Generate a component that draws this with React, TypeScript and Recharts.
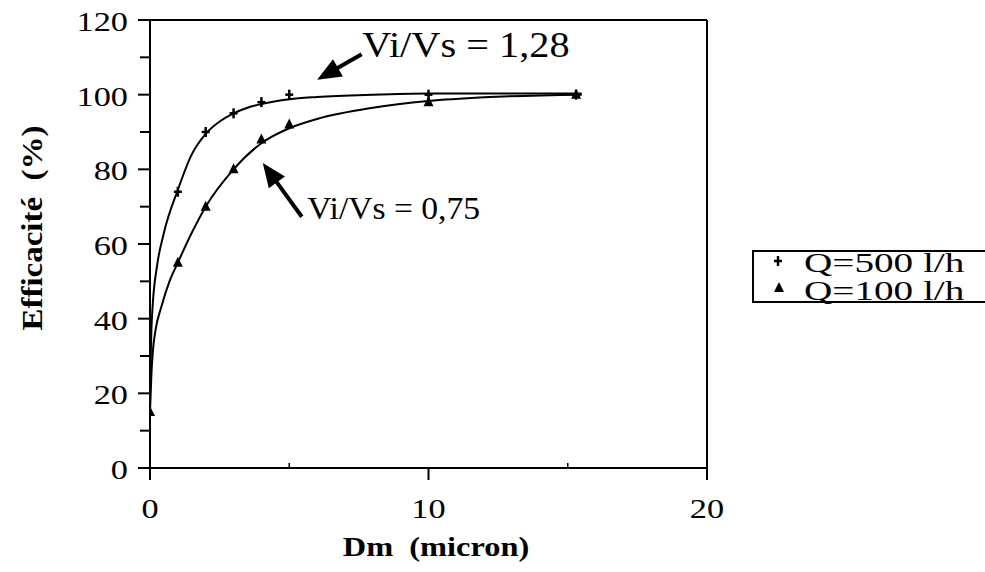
import React from "react";
import { ComposedChart, Customized, Legend, Line, ReferenceLine, Scatter, XAxis, YAxis } from "recharts";

const q500X = [1, 2, 3, 4, 5, 10, 15.3];
const q500Y = [74, 90, 95, 98, 100, 100, 100];
const q100X = [0, 1, 2, 3, 4, 5, 10, 15.3];
const q100Y = [15, 55, 70, 80, 88, 92, 98, 100];

// hand-drawn fit curves
const fitHighX = [0, 0.05, 0.1, 0.25, 0.5, 1, 1.5, 2, 2.5, 3, 3.5, 4, 5, 6, 8, 10, 12, 15.5];
const fitHighY = [22, 37, 44, 54, 63, 74.5, 84, 89.5, 92.8, 95, 96.5, 97.5, 98.8, 99.4, 100, 100.3, 100.3, 100.3];
const fitLowX = [0, 0.05, 0.1, 0.2, 0.4, 0.7, 1, 1.5, 2, 3, 4, 5, 6, 8, 10, 12, 15.5];
const fitLowY = [15, 25, 31, 37, 43, 50, 55, 63, 70, 80, 87, 91, 93.5, 96.5, 98.3, 99.3, 100];

const xTicks = [0, 5, 10, 15, 20];
const yTicks = [0, 10, 20, 30, 40, 50, 60, 70, 80, 90, 100, 110, 120];
const seriesNames = ["Q=500 l/h", "Q=100 l/h"];

const pts = (xs: number[], ys: number[]) => xs.map((x, i) => ({ x, y: ys[i] }));
const q500 = pts(q500X, q500Y);
const q100 = pts(q100X, q100Y);
const fitHigh = pts(fitHighX, fitHighY);
const fitLow = pts(fitLowX, fitLowY);

const W = 985;
const H = 572;
const LEFT = 150;
const RIGHT = 707;
const TOP = 20;
const BOTTOM = 468;
const FONT = "'Liberation Serif', 'Times New Roman', serif";

const px = (x: number, y: number): [number, number] => [
  LEFT + (x / 20) * (RIGHT - LEFT),
  BOTTOM - (y / 120) * (BOTTOM - TOP),
];

function SText({ x, y, size, sx = 1, rot = 0, anchor = "start", bold = false, children }: any) {
  return (
    <text
      transform={`translate(${x} ${y}) rotate(${rot}) scale(${sx} 1)`}
      textAnchor={anchor}
      fontFamily={FONT}
      fontSize={size}
      fontWeight={bold ? 700 : 400}
      fill="#000"
      style={{ whiteSpace: "pre" }}
    >
      {children}
    </text>
  );
}

function YTick({ y, payload }: any) {
  const v = payload.value;
  const major = v % 20 === 0;
  return (
    <g>
      <line x1={LEFT - (major ? 12 : 10)} x2={LEFT} y1={y} y2={y} stroke="#000" strokeWidth={2} />
      {major && (
        <SText x={LEFT - 22} y={y + 11} size={27} sx={1.27} anchor="end">
          {v}
        </SText>
      )}
    </g>
  );
}

function XTick({ x, payload }: any) {
  const v = payload.value;
  const major = v % 10 === 0;
  return (
    <g>
      {major ? (
        <line x1={x} x2={x} y1={BOTTOM} y2={BOTTOM + 12} stroke="#000" strokeWidth={2} />
      ) : (
        <line x1={x} x2={x} y1={BOTTOM} y2={BOTTOM - 5} stroke="#000" strokeWidth={1.5} />
      )}
      {major && (
        <SText x={x} y={BOTTOM + 50} size={27} sx={1.27} anchor="middle">
          {v}
        </SText>
      )}
    </g>
  );
}

function Plus({ cx, cy }: any) {
  return (
    <g stroke="#000" strokeWidth={2.5}>
      <line x1={cx - 4} x2={cx + 4} y1={cy} y2={cy} />
      <line x1={cx} x2={cx} y1={cy - 5} y2={cy + 5} />
    </g>
  );
}

function Tri({ cx, cy }: any) {
  return <polygon points={`${cx},${cy - 6} ${cx - 5},${cy + 4} ${cx + 5},${cy + 4}`} fill="#000" />;
}

function Arrow({ from, to }: { from: [number, number]; to: [number, number] }) {
  const [x1, y1] = px(from[0], from[1]);
  const [x2, y2] = px(to[0], to[1]);
  const dx = x2 - x1;
  const dy = y2 - y1;
  const len = Math.hypot(dx, dy);
  const ux = dx / len;
  const uy = dy / len;
  const head = 24;
  const half = 10;
  const bx = x2 - ux * head;
  const by = y2 - uy * head;
  return (
    <g>
      <line x1={x1} y1={y1} x2={bx + ux * 4} y2={by + uy * 4} stroke="#000" strokeWidth={4} />
      <polygon
        points={`${x2},${y2} ${bx - uy * half},${by + ux * half} ${bx + uy * half},${by - ux * half}`}
        fill="#000"
      />
    </g>
  );
}

function Overlay() {
  const [t1x, t1y] = px(7.62, 110.2);
  const [t2x, t2y] = px(5.65, 66.7);
  return (
    <g>
      <Arrow from={[7.6, 110.8]} to={[6.0, 104]} />
      <Arrow from={[5.45, 67.3]} to={[4.05, 81.7]} />
      <SText x={t1x} y={t1y} size={36} sx={1.12}>
        Vi/Vs = 1,28
      </SText>
      <SText x={t2x} y={t2y} size={32} sx={1.05}>
        Vi/Vs = 0,75
      </SText>
      <SText x={436} y={556} size={27} sx={1.2} anchor="middle" bold>
        {"Dm\u00a0\u00a0(micron)"}
      </SText>
      <SText x={42} y={228} size={30} sx={1.1} rot={-90} anchor="middle" bold>
        {"Efficacité\u00a0\u00a0(%)"}
      </SText>
    </g>
  );
}

function LegendBox({ payload }: any) {
  const list = payload || [];
  const items = seriesNames.filter((n) => list.some((p: any) => p.value === n));
  return (
    <div
      style={{
        boxSizing: "border-box",
        width: 233,
        height: 53,
        border: "2px solid #000",
        borderRight: "none",
      }}
    >
      <svg width={231} height={49} style={{ display: "block", overflow: "visible" }}>
        {items.map((name: string, i: number) => (
          <g key={name}>
            {i === 0 ? <Plus cx={24} cy={9 + i * 28} /> : <Tri cx={25} cy={8 + i * 28} />}
            <SText x={50} y={20 + i * 28} size={28} sx={1.4}>
              {name}
            </SText>
          </g>
        ))}
      </svg>
    </div>
  );
}

export default function App() {
  return (
    <div style={{ position: "absolute", left: 0, top: 0, width: W, height: H, background: "#fff" }}>
      <ComposedChart
        width={W}
        height={H}
        margin={{ top: TOP, right: W - RIGHT, bottom: H - BOTTOM - 60, left: LEFT - 60 }}
      >
        <XAxis
          type="number"
          dataKey="x"
          domain={[0, 20]}
          ticks={xTicks}
          interval={0}
          height={60}
          axisLine={{ stroke: "#000", strokeWidth: 2 }}
          tickLine={false}
          tick={<XTick />}
          allowDataOverflow
        />
        <YAxis
          type="number"
          dataKey="y"
          domain={[0, 120]}
          ticks={yTicks}
          interval={0}
          width={60}
          axisLine={{ stroke: "#000", strokeWidth: 2 }}
          tickLine={false}
          tick={<YTick />}
          allowDataOverflow
        />
        <ReferenceLine y={120} stroke="#000" strokeWidth={2} />
        <ReferenceLine x={20} stroke="#000" strokeWidth={2} />
        <Line
          data={fitHigh}
          dataKey="y"
          type="monotone"
          dot={false}
          stroke="#000"
          strokeWidth={2}
          legendType="none"
          isAnimationActive={false}
        />
        <Line
          data={fitLow}
          dataKey="y"
          type="monotone"
          dot={false}
          stroke="#000"
          strokeWidth={2}
          legendType="none"
          isAnimationActive={false}
        />
        <Scatter name={seriesNames[0]} data={q500} dataKey="y" fill="#000" shape={<Plus />} isAnimationActive={false} />
        <Scatter name={seriesNames[1]} data={q100} dataKey="y" fill="#000" shape={<Tri />} isAnimationActive={false} />
        <Legend
          layout="vertical"
          align="center"
          verticalAlign="middle"
          content={<LegendBox />}
          wrapperStyle={{ position: "absolute", left: 752, top: 250, width: 233 }}
        />
        <Customized component={Overlay} />
      </ComposedChart>
    </div>
  );
}
